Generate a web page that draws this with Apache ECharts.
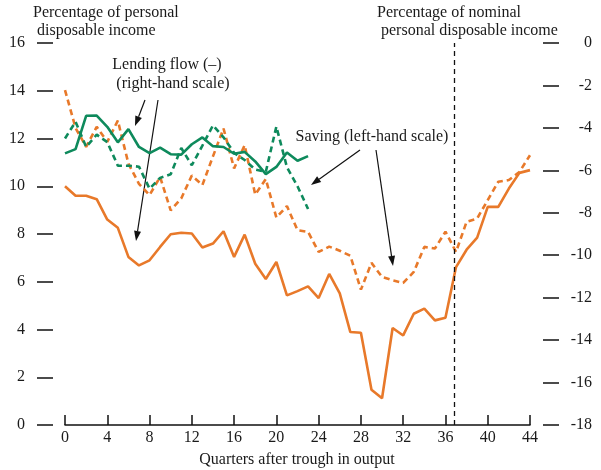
<!DOCTYPE html>
<html>
<head>
<meta charset="utf-8">
<script src="https://cdn.jsdelivr.net/npm/echarts@6/dist/echarts.min.js"></script>
<style>
  html, body { margin: 0; padding: 0; background: #fff; }
  #chart { width: 601px; height: 470px; }
</style>
</head>
<body>
<div id="chart"></div>
<script>
// values, one per quarter after the trough
// saving, left-hand scale (dashed lines)
const savingOrange = [14.03, 12.44, 11.65, 12.49, 11.86, 12.75, 10.95, 10.1, 9.63, 10.39,
  8.99, 9.49, 10.45, 10.05, 11.25, 12.42, 10.75, 11.72, 9.65, 10.3,
  8.69, 9.17, 8.16, 8.09, 7.25, 7.47, 7.3, 7.09, 5.67, 6.79,
  6.2, 6.06, 5.95, 6.41, 7.46, 7.39, 8.1, 7.25, 8.51, 8.65,
  9.42, 10.19, 10.26, 10.6, 11.3];
const savingGreen = [12.0, 12.7, 11.65, 12.16, 11.85, 10.86, 10.86, 10.82, 9.9, 10.35,
  10.5, 11.6, 10.88, 11.7, 12.55, 12.05, 11.4, 11.1, 10.7, 10.6,
  12.5, 10.8, 10.0, 9.05];
// lending flow, right-hand scale (solid lines)
const lendingOrange = [-6.75, -7.2, -7.2, -7.36, -8.32, -8.71, -10.08, -10.48, -10.24, -9.61,
  -9.01, -8.94, -8.98, -9.64, -9.45, -8.87, -10.08, -9.03, -10.4, -11.12,
  -10.32, -11.89, -11.69, -11.47, -12.02, -10.88, -11.8, -13.62, -13.65, -16.34,
  -16.74, -13.43, -13.78, -12.76, -12.52, -13.07, -12.95, -10.56, -9.74, -9.17,
  -7.72, -7.72, -6.86, -6.12, -5.99];
const lendingGreen = [-5.2, -5.0, -3.43, -3.42, -3.95, -4.68, -4.06, -4.9, -5.19, -4.93,
  -5.24, -5.26, -4.77, -4.45, -4.86, -4.9, -5.22, -5.13, -5.58, -6.18,
  -5.84, -5.16, -5.55, -5.33];

const xTicks = [0, 4, 8, 12, 16, 20, 24, 28, 32, 36, 40, 44];
const leftRange = [0, 16];
const rightRange = [-18, 0];
const markerQuarter = 36.8;

const ORANGE = '#E8792A';
const GREEN = '#0E8A5C';
const FONT = 'Liberation Serif';
const INK = '#1a1a1a';
const FS = 16;

// pair each value with its quarter index
const toPoints = (arr) => arr.map((v, i) => [i, v]);

// annotation arrow: a line with a filled head at (x2, y2)
function arrow(x1, y1, x2, y2) {
  const ang = Math.atan2(y2 - y1, x2 - x1);
  const len = 10, half = 3.5;
  const bx = x2 - len * Math.cos(ang), by = y2 - len * Math.sin(ang);
  const px = -Math.sin(ang) * half, py = Math.cos(ang) * half;
  return [
    {type: 'line', shape: {x1: x1, y1: y1, x2: bx, y2: by},
      style: {stroke: '#111', lineWidth: 1.2}},
    {type: 'polygon', shape: {points: [[x2, y2], [bx + px, by + py], [bx - px, by - py]]},
      style: {fill: '#111'}}
  ];
}

function text(x, y, str, align) {
  return {type: 'text', x: x, y: y,
    style: {text: str, font: FS + 'px "' + FONT + '"', fill: INK,
      textAlign: align || 'left', textVerticalAlign: 'middle'}};
}

// value axis used only for scaling the series (nothing drawn)
function hiddenY(range, pos, grid) {
  return {type: 'value', gridIndex: grid, position: pos, min: range[0], max: range[1],
    show: false, splitLine: {show: false}};
}

// visible y scale, drawn in the wider grid so the ticks stand off the plot
function tickY(range, pos, margin, align) {
  return {
    type: 'value', gridIndex: 1, position: pos,
    min: range[0], max: range[1], interval: 2,
    axisLine: {show: false},
    axisTick: {show: true, length: 16, lineStyle: {color: '#111', width: 1.5}},
    axisLabel: {margin: margin, align: align, fontFamily: FONT, fontSize: FS, color: INK},
    splitLine: {show: false}
  };
}

const chart = echarts.init(document.getElementById('chart'));

const option = {
  animation: false,
  grid: [
    {left: 65, right: 71, top: 43, bottom: 45, outerBoundsMode: 'none'},
    {left: 53, right: 58, top: 43, bottom: 45, outerBoundsMode: 'none'}
  ],
  xAxis: [
    {
      type: 'value',
      gridIndex: 0,
      min: 0,
      max: 44,
      interval: 4,
      axisLine: {show: true, lineStyle: {color: '#111', width: 1.5}},
      axisTick: {show: true, inside: true, length: 10, lineStyle: {color: '#111', width: 1.5}},
      axisLabel: {
        margin: 5, fontFamily: FONT, fontSize: FS, color: INK,
        customValues: xTicks
      },
      splitLine: {show: false}
    },
    {type: 'value', gridIndex: 1, min: 0, max: 1, show: false, splitLine: {show: false}}
  ],
  yAxis: [
    hiddenY(leftRange, 'left', 0),
    hiddenY(rightRange, 'right', 0),
    tickY(leftRange, 'left', 28, 'right'),
    tickY(rightRange, 'right', 49, 'right')
  ],
  series: [
    {
      name: 'Lending flow (orange)',
      type: 'line',
      yAxisIndex: 1,
      data: toPoints(lendingOrange),
      showSymbol: false,
      lineStyle: {color: ORANGE, width: 2.6},
      z: 2,
      markLine: {
        silent: true,
        symbol: 'none',
        label: {show: false},
        lineStyle: {color: '#111', type: [5, 4], width: 1.3},
        data: [{xAxis: markerQuarter}]
      }
    },
    {
      name: 'Saving (orange)',
      type: 'line',
      yAxisIndex: 0,
      data: toPoints(savingOrange),
      showSymbol: false,
      lineStyle: {color: ORANGE, width: 2.6, type: [6, 4]},
      z: 2
    },
    {
      name: 'Saving (green)',
      type: 'line',
      yAxisIndex: 0,
      data: toPoints(savingGreen),
      showSymbol: false,
      lineStyle: {color: GREEN, width: 2.6, type: [6, 4]},
      z: 3
    },
    {
      name: 'Lending flow (green)',
      type: 'line',
      yAxisIndex: 1,
      data: toPoints(lendingGreen),
      showSymbol: false,
      lineStyle: {color: GREEN, width: 2.6},
      z: 4
    }
  ],
  graphic: [
    text(33, 13, 'Percentage of personal'),
    text(37, 31, 'disposable income'),
    text(377, 13, 'Percentage of nominal'),
    text(381, 31, 'personal disposable income'),
    text(167, 65, 'Lending flow (\u2013)', 'center'),
    text(173, 84, '(right-hand scale)', 'center'),
    text(372, 137, 'Saving (left-hand scale)', 'center'),
    text(297, 460, 'Quarters after trough in output', 'center'),
    ...arrow(145, 100, 135, 126),
    ...arrow(158, 100, 136, 241),
    ...arrow(360, 150, 311, 185),
    ...arrow(376, 150, 393, 266)
  ]
};

chart.setOption(option);
</script>
</body>
</html>
